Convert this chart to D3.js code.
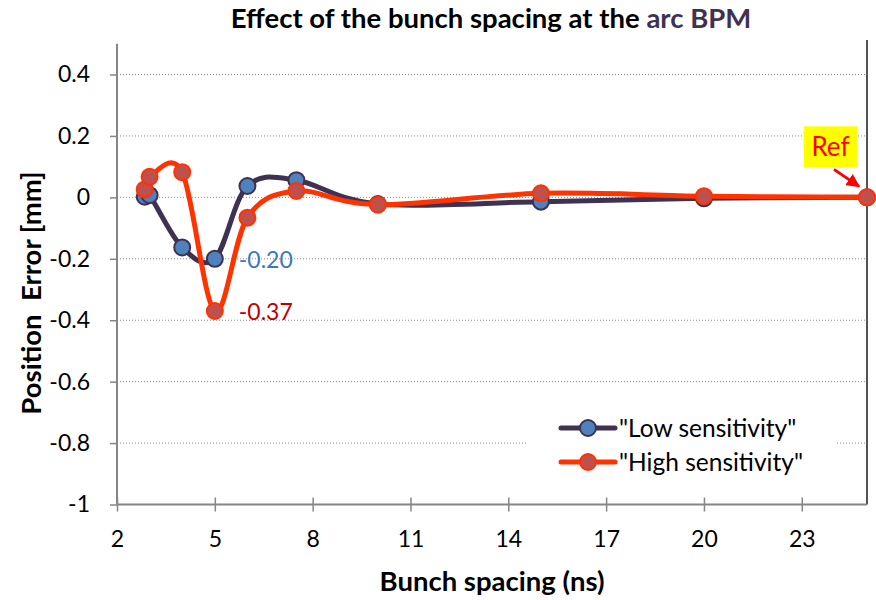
<!DOCTYPE html>
<html>
<head>
<meta charset="utf-8">
<script src="https://cdn.jsdelivr.net/npm/d3@7"></script>
<style>
  html, body { margin: 0; padding: 0; background: #fff; }
  svg { display: block; font-family: Lato, "Open Sans", sans-serif; }
</style>
</head>
<body>
<svg id="chart" width="876" height="600"></svg>
<script>
// ---- data ----
const spacing = [2.85, 3, 4, 5, 6, 7.5, 10, 15, 20, 25];
const lowSensitivity  = [0.002, 0.007, -0.163, -0.20, 0.037, 0.056, -0.022, -0.014, -0.003, 0];
const highSensitivity = [0.026, 0.067, 0.082, -0.37, -0.066, 0.021, -0.024, 0.013, 0.004, 0];
const seriesNames = ['"Low sensitivity"', '"High sensitivity"'];
const xTicks = [2, 5, 8, 11, 14, 17, 20, 23];
const yTicks = [-1, -0.8, -0.6, -0.4, -0.2, 0, 0.2, 0.4];
const yTickLabels = ["-1", "-0.8", "-0.6", "-0.4", "-0.2", "0", "0.2", "0.4"];
const titleMain = "Effect of the bunch spacing at the ";
const titleAccent = "arc BPM";
const xTitle = "Bunch spacing (ns)";
const yTitle = "Position\u00a0 Error [mm]";
const minLabels = [{series: 0, x: 5, text: "-0.20"}, {series: 1, x: 5, text: "-0.37"}];
const refLabel = {x: 25, text: "Ref"};

// ---- layout ----
const svg = d3.select("#chart");
const pLeft = 117, pRight = 867, pTop = 43.8, pBottom = 504.5;
const x = d3.scaleLinear().domain([2, 25]).range([pLeft, pRight]);
const y = d3.scaleLinear().domain([-1, 0.5]).range([pBottom, pTop]);

const styles = [
  {line: "#3f3151", fill: "#4f81bd", stroke: "#3f3151", label: "#3b78c2"},
  {line: "#ff3300", fill: "#c0504d", stroke: "#ff3300", label: "#c00000"}
];

// gridlines
svg.append("g").selectAll("line").data(yTicks.filter(t => t > -1)).join("line")
  .attr("x1", pLeft).attr("x2", pRight)
  .attr("y1", d => y(d)).attr("y2", d => y(d))
  .attr("stroke", "#8c8c8c").attr("stroke-width", 1).attr("stroke-dasharray", "1,2");

// right border
svg.append("line").attr("x1", pRight).attr("x2", pRight).attr("y1", 40).attr("y2", pBottom)
  .attr("stroke", "#1a1a1a").attr("stroke-width", 1.5);

// y axis
const yAxis = d3.axisLeft(y).tickValues(yTicks).tickSize(7).tickPadding(20)
  .tickFormat((d, i) => yTickLabels[i]);
const gy = svg.append("g").attr("transform", `translate(${pLeft},0)`).call(yAxis);
gy.select(".domain").attr("stroke", "#868686").attr("stroke-width", 2).attr("d", `M0,${pTop}V${pBottom}`);
gy.selectAll(".tick line").attr("stroke", "#868686").attr("stroke-width", 1.5);
gy.selectAll(".tick text").attr("font-size", 23).attr("fill", "#000").attr("font-family", "Lato");

// x axis
const xAxis = d3.axisBottom(x).tickValues(xTicks).tickSize(7).tickPadding(19);
const gx = svg.append("g").attr("transform", `translate(0,${pBottom})`).call(xAxis);
gx.select(".domain").attr("stroke", "#868686").attr("stroke-width", 2).attr("d", `M${pLeft},0H${pRight}`);
gx.selectAll(".tick line").attr("stroke", "#868686").attr("stroke-width", 1.5).attr("y1", -7);
gx.selectAll(".tick text").attr("font-size", 23).attr("fill", "#000").attr("font-family", "Lato");

// lines + markers
const allSeries = [lowSensitivity, highSensitivity];
const lineGen = d3.line().x(d => x(d[0])).y(d => y(d[1])).curve(d3.curveCardinal.tension(0));
allSeries.forEach((vals, i) => {
  const pts = spacing.map((s, j) => [s, vals[j]]);
  const g = svg.append("g");
  g.append("path").attr("d", lineGen(pts)).attr("fill", "none")
    .attr("stroke", styles[i].line).attr("stroke-width", 5).attr("stroke-linejoin", "round");
  g.selectAll("circle").data(pts).join("circle")
    .attr("cx", d => x(d[0])).attr("cy", d => y(d[1])).attr("r", 8)
    .attr("fill", styles[i].fill).attr("stroke", styles[i].stroke).attr("stroke-width", 2);
});

// min labels
minLabels.forEach(l => {
  const v = allSeries[l.series][spacing.indexOf(l.x)];
  svg.append("text").attr("x", x(l.x) + 24).attr("y", y(v) + 1).attr("dy", "0.35em")
    .attr("font-size", 23).attr("fill", styles[l.series].label).text(l.text);
});

// Ref annotation
const rx = x(refLabel.x), ry = y(0);
svg.append("defs").append("marker").attr("id", "arr").attr("viewBox", "0 0 10 10")
  .attr("refX", 9).attr("refY", 5).attr("markerWidth", 4.5).attr("markerHeight", 4.5)
  .attr("orient", "auto").append("path").attr("d", "M0,0L10,5L0,10z").attr("fill", "#ff0000");
svg.append("line").attr("x1", rx - 33).attr("y1", ry - 28).attr("x2", rx - 8).attr("y2", ry - 11)
  .attr("stroke", "#ff0000").attr("stroke-width", 3).attr("marker-end", "url(#arr)");
svg.append("rect").attr("x", rx - 63).attr("y", ry - 71).attr("width", 53).attr("height", 41)
  .attr("fill", "#ffff00");
svg.append("text").attr("x", rx - 36.5).attr("y", ry - 50).attr("dy", "0.35em")
  .attr("text-anchor", "middle").attr("font-size", 26).attr("fill", "#ff0000").text(refLabel.text);

// legend
const lg = svg.append("g");
lg.append("rect").attr("x", 527).attr("y", 398).attr("width", 308).attr("height", 88).attr("fill", "#fff");
seriesNames.forEach((name, i) => {
  const ly = 428 + i * 34;
  lg.append("line").attr("x1", 561).attr("x2", 615).attr("y1", ly).attr("y2", ly)
    .attr("stroke", styles[i].line).attr("stroke-width", 5).attr("stroke-linecap", "round");
  lg.append("circle").attr("cx", 588).attr("cy", ly).attr("r", 8)
    .attr("fill", styles[i].fill).attr("stroke", styles[i].stroke).attr("stroke-width", 2);
  lg.append("text").attr("x", 619).attr("y", ly).attr("dy", "0.35em")
    .attr("font-size", 24.5).attr("fill", "#000").text(name);
});

// titles
const t = svg.append("text").attr("x", 491).attr("y", 28).attr("text-anchor", "middle")
  .attr("font-size", 27.5).attr("font-weight", "bold");
t.append("tspan").attr("fill", "#000").text(titleMain);
t.append("tspan").attr("fill", "#403152").text(titleAccent);

svg.append("text").attr("x", 492).attr("y", 591).attr("text-anchor", "middle")
  .attr("font-size", 27.5).attr("font-weight", "bold").text(xTitle);

svg.append("text").attr("transform", "translate(41,293) rotate(-90)").attr("text-anchor", "middle")
  .attr("font-size", 27.5).attr("font-weight", "bold").text(yTitle);
</script>
</body>
</html>
